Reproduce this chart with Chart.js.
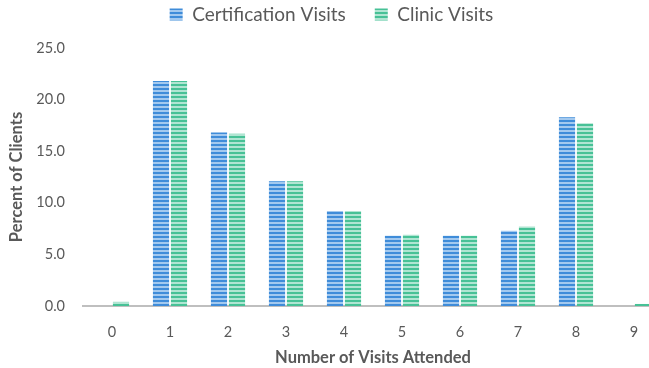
<!DOCTYPE html>
<html>
<head>
<meta charset="utf-8">
<script src="https://cdn.jsdelivr.net/npm/chart.js@4.4.1/dist/chart.umd.min.js"></script>
<style>
html,body{margin:0;padding:0;background:#fff;overflow:hidden;width:649px;height:368px;}
#wrap{position:absolute;left:0;top:0;width:672px;height:368px;}
</style>
</head>
<body>
<div id="wrap"><canvas id="c" width="672" height="368"></canvas></div>
<script>
const categories = ['0','1','2','3','4','5','6','7','8','9'];
const certificationVisits = [0, 21.8, 16.8, 12.1, 9.2, 6.8, 6.8, 7.3, 18.3, 0];
const clinicVisits = [0.4, 21.8, 16.7, 12.1, 9.2, 6.9, 6.8, 7.7, 17.7, 0.2];
const seriesNames = ['Certification Visits', 'Clinic Visits'];
const yTicks = [0, 5, 10, 15, 20, 25];

function stripes(dark, light) {
  const p = document.createElement('canvas');
  p.width = 4; p.height = 4;
  const g = p.getContext('2d');
  g.fillStyle = light; g.fillRect(0, 0, 4, 4);
  g.fillStyle = dark; g.fillRect(0, 0, 4, 2);
  return g.createPattern(p, 'repeat');
}
const ctx = document.getElementById('c').getContext('2d');
const bluePat = stripes('#3f8cd9', '#a3c9ef');
const greenPat = stripes('#47c196', '#b0e5d2');

const legendFit = {
  id: 'legendFit',
  beforeInit(chart) {
    const orig = chart.legend.fit;
    chart.legend.fit = function () {
      orig.call(this);
      this.height = 72;
    };
  }
};

const FONT = 'Lato, "Liberation Sans", sans-serif';
new Chart(ctx, {
  type: 'bar',
  data: {
    labels: categories,
    datasets: [
      { label: seriesNames[0], data: certificationVisits, backgroundColor: bluePat, borderWidth: 0 },
      { label: seriesNames[1], data: clinicVisits, backgroundColor: greenPat, borderWidth: 0 }
    ]
  },
  plugins: [legendFit],
  options: {
    responsive: false,
    animation: false,
    devicePixelRatio: 1,
    layout: { padding: { left: 0, right: 9, top: -24, bottom: 0 } },
    datasets: { bar: { categoryPercentage: 0.62, barPercentage: 0.9 } },
    plugins: {
      tooltip: { enabled: false },
      legend: {
        position: 'top',
        align: 'center',
        labels: {
          boxWidth: 13, boxHeight: 12,
          color: '#595959',
          font: { family: FONT, size: 19 },
          padding: 29
        }
      }
    },
    scales: {
      x: {
        grid: { display: false, drawTicks: false },
        border: { display: true, color: '#bfbfbf', width: 2 },
        ticks: { color: '#595959', font: { family: FONT, size: 14.5 }, padding: 18 },
        title: { display: true, text: 'Number of Visits Attended', color: '#595959',
                 font: { family: FONT, size: 16.5, weight: 'bold' }, padding: { top: 4, bottom: 0 } },
        afterFit(scale) { scale.height = 62; }
      },
      y: {
        min: 0, max: 25,
        afterBuildTicks(scale) { scale.ticks = yTicks.map(v => ({ value: v })); },
        grid: { display: false, drawTicks: false },
        border: { display: false },
        ticks: { color: '#595959', font: { family: FONT, size: 14.5 }, padding: 18,
                 callback: v => Number(v).toFixed(1) },
        title: { display: true, text: 'Percent of Clients', color: '#595959',
                 font: { family: FONT, size: 16.5, weight: 'bold' }, padding: { top: 7, bottom: 0 } },
        afterFit(scale) { scale.width = 83; }
      }
    }
  }
});
</script>
</body>
</html>
